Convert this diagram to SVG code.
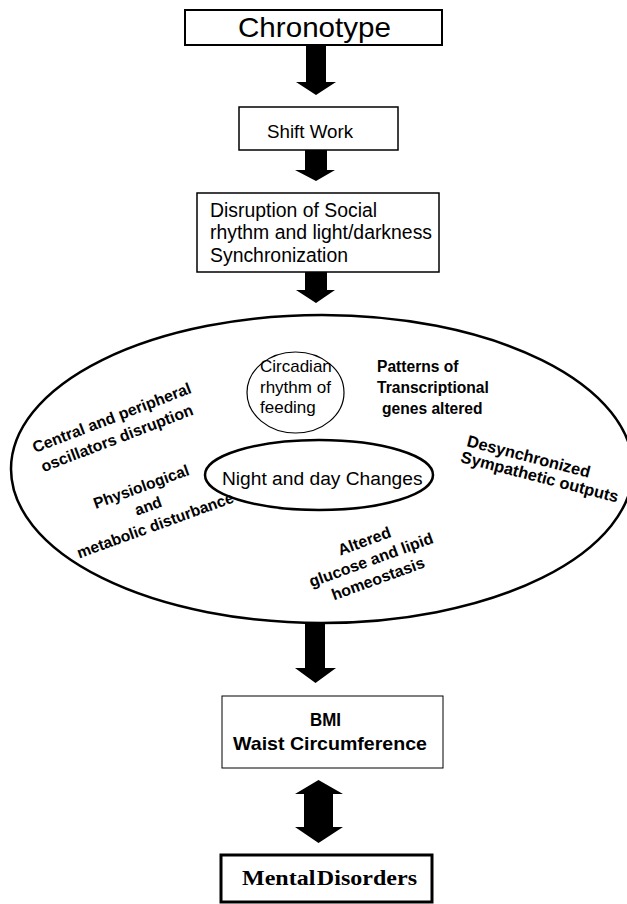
<svg xmlns="http://www.w3.org/2000/svg" width="627" height="904" viewBox="0 0 627 904">
<style>
.box{fill:#fff;stroke:#000}
.t{font-family:"Liberation Sans",Arial,sans-serif;fill:#000}
.b{font-weight:bold}
.serif{font-family:"Liberation Serif","Times New Roman",serif;fill:#000;font-weight:bold}
.arrow{fill:#000;stroke:none}
.ell{fill:none;stroke:#000}
</style>
<rect width="627" height="904" fill="#fff"/>
<g id="chronotype">
<rect class="box" x="185" y="10" width="257" height="35" stroke-width="2"/>
<text class="t" x="238" y="37" font-size="28" textLength="153" lengthAdjust="spacingAndGlyphs">Chronotype</text>
</g>
<g id="shift-work">
<rect class="box" x="239" y="107" width="159" height="43" stroke-width="1.5"/>
<text class="t" x="267" y="138" font-size="18" textLength="86" lengthAdjust="spacingAndGlyphs">Shift Work</text>
</g>
<g id="disruption">
<rect class="box" x="197" y="193" width="242" height="79" stroke-width="1.5"/>
<text class="t" font-size="19.4"><tspan x="210" y="217">Disruption of Social</tspan><tspan x="210" y="239">rhythm and light/darkness</tspan><tspan x="210" y="262">Synchronization</tspan></text>
</g>
<g id="mechanisms">
<ellipse class="ell" cx="322" cy="469" rx="311" ry="154" stroke-width="2.5"/>
</g>
<g id="circadian-feeding">
<ellipse class="ell" cx="295.5" cy="392.5" rx="48.5" ry="40.5" stroke-width="1.2"/>
<text class="t" font-size="17"><tspan x="260" y="372">Circadian</tspan><tspan x="260" y="392.5">rhythm of</tspan><tspan x="260" y="413">feeding</tspan></text>
</g>
<g id="night-day">
<ellipse class="ell" cx="319" cy="475" rx="114" ry="35" stroke-width="2.5"/>
<text class="t" x="222" y="485" font-size="19.2">Night and day Changes</text>
</g>
<g id="transcriptional">
<text class="t b" font-size="15.6"><tspan x="377" y="372">Patterns of</tspan><tspan x="377" y="393">Transcriptional</tspan><tspan x="382" y="414">genes altered</tspan></text>
</g>
<g id="oscillators" transform="translate(35,453) rotate(-21)">
<text class="t b" font-size="15.9"><tspan x="0" y="0">Central and peripheral</tspan><tspan x="1" y="21">oscillators disruption</tspan></text>
</g>
<g id="physiological" transform="translate(150,511) rotate(-20)">
<text class="t b" font-size="15.6" text-anchor="middle"><tspan x="0" y="-20.5">Physiological</tspan><tspan x="0" y="0">and</tspan><tspan x="0" y="20.5">metabolic disturbance</tspan></text>
</g>
<g id="sympathetic" transform="translate(466,446) rotate(14.5)">
<text class="t b" font-size="16.4"><tspan x="0" y="0">Desynchronized</tspan><tspan x="-2" y="17">Sympathetic outputs</tspan></text>
</g>
<g id="glucose" transform="translate(373,565) rotate(-20)">
<text class="t b" font-size="16" text-anchor="middle"><tspan x="0" y="-20">Altered</tspan><tspan x="0" y="0">glucose and lipid</tspan><tspan x="0" y="20">homeostasis</tspan></text>
</g>
<g id="bmi">
<rect class="box" x="222" y="696" width="221" height="72" stroke-width="1" stroke="#222"/>
<text class="t b" x="310" y="726" font-size="18.5" textLength="31" lengthAdjust="spacingAndGlyphs">BMI</text>
<text class="t b" x="233" y="750" font-size="18.5" textLength="194" lengthAdjust="spacingAndGlyphs">Waist Circumference</text>
</g>
<g id="mental-disorders">
<rect class="box" x="221" y="855" width="211" height="47" stroke-width="3"/>
<text class="serif" x="242" y="885" font-size="21" textLength="175" lengthAdjust="spacingAndGlyphs" word-spacing="-4">Mental Disorders</text>
</g>
<g id="connectors">
<polygon class="arrow" points="306,45 326,45 326,82 336,82 316,95 296,82 306,82"/>
<polygon class="arrow" points="305,150 327,150 327,170 335,170 316,181 295,170 305,170"/>
<polygon class="arrow" points="305,272 327,272 327,290 335,290 316,303 296,290 305,290"/>
<polygon class="arrow" points="305,623 325,623 325,668 336,668 315.5,683 295,668 305,668"/>
<polygon class="arrow" points="318.5,780 343,794 333,794 333,827 343,827 318.5,843 295,827 304,827 304,794 295,794"/>
</g>
</svg>
